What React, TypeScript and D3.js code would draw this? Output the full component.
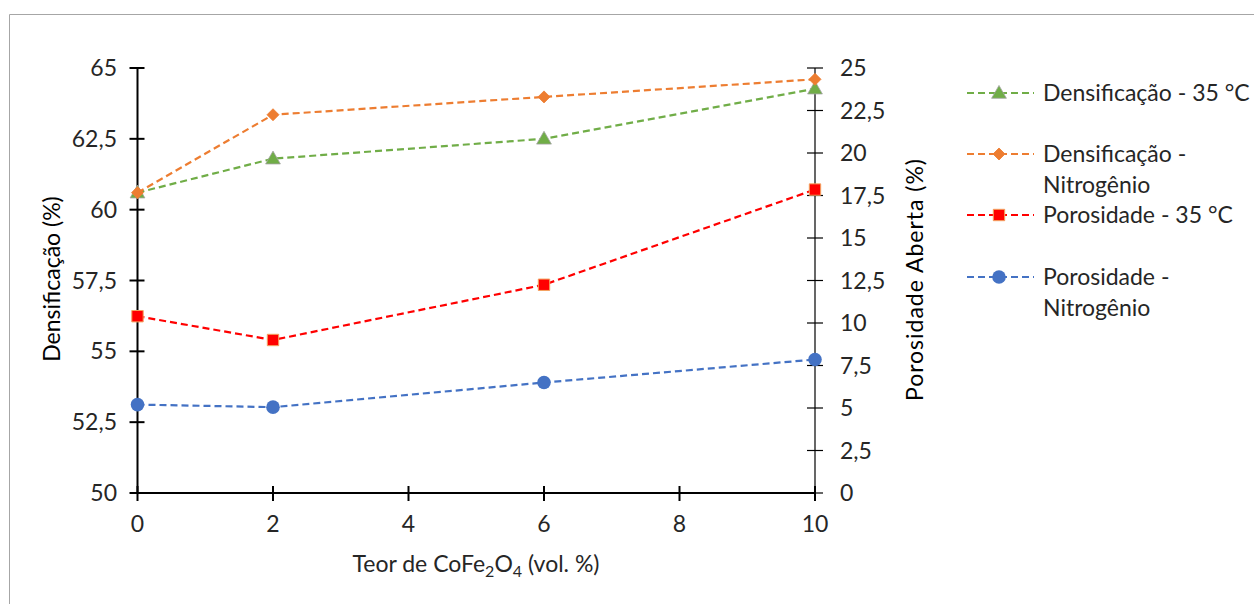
import React from "react";
import * as d3 from "d3";

const xValues = [0, 2, 6, 10];
const densif35 = [60.6, 61.8, 62.5, 64.27];
const densifN2 = [60.6, 63.35, 63.98, 64.6];
const poros35 = [10.4, 9.0, 12.25, 17.85];
const porosN2 = [5.2, 5.05, 6.5, 7.85];

const xTicks = [0, 2, 4, 6, 8, 10];
const leftTicks = [50, 52.5, 55, 57.5, 60, 62.5, 65];
const rightTicks = [0, 2.5, 5, 7.5, 10, 12.5, 15, 17.5, 20, 22.5, 25];

const legendLabels = [
  ["Densificação - 35 °C"],
  ["Densificação -", "Nitrogênio"],
  ["Porosidade - 35 °C"],
  ["Porosidade -", "Nitrogênio"],
];

const W = 1254;
const H = 604;
const X0 = 137.5;
const X1 = 815;
const YT = 68;
const YB = 493;
const FONT = "Lato, 'Open Sans', sans-serif";
const FS = 23;
const TXT = "#262626";

const locale = d3.formatLocale({ decimal: ",", thousands: ".", grouping: [3], currency: ["", ""] });
const fmt = (v: number) => locale.format("~g")(v);

const xScale = d3.scaleLinear().domain([0, 10]).range([X0, X1]);
const yLeft = d3.scaleLinear().domain([50, 65]).range([YB, YT]);
const yRight = d3.scaleLinear().domain([0, 25]).range([YB, YT]);

type Marker = "triangle" | "diamond" | "square" | "circle";

function MarkerShape({ kind, x, y, color }: { kind: Marker; x: number; y: number; color: string }) {
  if (kind === "triangle") {
    const p = d3.symbol().type(d3.symbolTriangle).size(95)() as string;
    return <path d={p} transform={`translate(${x},${y + 1})`} fill={color} stroke="#a5a5a5" strokeWidth={0.8} />;
  }
  if (kind === "diamond") {
    const p = d3.symbol().type(d3.symbolSquare).size(72)() as string;
    return <path d={p} transform={`translate(${x},${y}) rotate(45)`} fill={color} stroke={color} strokeWidth={0.8} />;
  }
  if (kind === "square") {
    const p = d3.symbol().type(d3.symbolSquare).size(130)() as string;
    return <path d={p} transform={`translate(${x},${y})`} fill={color} stroke="#f4a460" strokeWidth={1} />;
  }
  return <circle cx={x} cy={y} r={6.8} fill={color} />;
}

const series = [
  { values: densif35, scale: yLeft, color: "#70ad47", marker: "triangle" as Marker },
  { values: densifN2, scale: yLeft, color: "#ed7d31", marker: "diamond" as Marker },
  { values: poros35, scale: yRight, color: "#ff0000", marker: "square" as Marker },
  { values: porosN2, scale: yRight, color: "#4472c4", marker: "circle" as Marker },
];

const legendRows = [93, 154, 215, 277];

export default function App() {
  return (
    <svg width={W} height={H} style={{ position: "absolute", left: 0, top: 0 }} fontFamily={FONT}>
      <rect x={0} y={0} width={W} height={H} fill="#fff" />
      <path d={`M9.5,${H} V14.5 H${W}`} fill="none" stroke="#a6a6a6" strokeWidth={1} />

      {/* axes */}
      <line x1={X0} x2={X0} y1={YT} y2={YB} stroke="#000" strokeWidth={2} />
      <line x1={X1} x2={X1} y1={YT} y2={YB + 7} stroke="#000" strokeWidth={1.2} />
      <line x1={X0} x2={X1} y1={YB} y2={YB} stroke="#000" strokeWidth={2} />
      {leftTicks.map((t) => (
        <g key={"l" + t}>
          <line x1={X0 - 8} x2={X0 + 7} y1={yLeft(t)} y2={yLeft(t)} stroke="#000" strokeWidth={2} />
          <text x={117} y={yLeft(t)} dy="0.35em" textAnchor="end" fontSize={FS} fill={TXT}>
            {fmt(t)}
          </text>
        </g>
      ))}
      {rightTicks.map((t) => (
        <g key={"r" + t}>
          <line x1={X1 - 8} x2={X1 + 8} y1={yRight(t)} y2={yRight(t)} stroke="#000" strokeWidth={1.2} />
          <text x={840} y={yRight(t)} dy="0.35em" textAnchor="start" fontSize={FS} fill={TXT}>
            {fmt(t)}
          </text>
        </g>
      ))}
      {xTicks.map((t) => (
        <g key={"x" + t}>
          <line x1={xScale(t)} x2={xScale(t)} y1={YB - 7} y2={YB + 8} stroke="#000" strokeWidth={2} />
          <text x={xScale(t)} y={524} dy="0.35em" textAnchor="middle" fontSize={FS} fill={TXT}>
            {fmt(t)}
          </text>
        </g>
      ))}

      {/* axis titles */}
      <text transform="translate(52,279) rotate(-90)" textAnchor="middle" dy="0.35em" fontSize={FS} fill="#000">
        Densificação (%)
      </text>
      <text transform="translate(915,280) rotate(-90)" textAnchor="middle" dy="0.35em" fontSize={FS} fill="#000"
        textLength={242} lengthAdjust="spacing">
        Porosidade Aberta (%)
      </text>
      <text x={476} y={564} textAnchor="middle" dy="0.35em" fontSize={FS} fill={TXT}>
        Teor de CoFe
        <tspan fontSize={16} dy="5">2</tspan>
        <tspan dy="-5">O</tspan>
        <tspan fontSize={16} dy="5">4</tspan>
        <tspan dy="-5"> (vol. %)</tspan>
      </text>

      {/* series lines */}
      {series.map((s, i) => {
        const line = d3
          .line<number>()
          .x((_, j) => xScale(xValues[j]))
          .y((v) => s.scale(v));
        return (
          <path key={"s" + i} d={line(s.values) as string} fill="none" stroke={s.color} strokeWidth={2.2} strokeDasharray="7,4" />
        );
      })}
      {series.map((s, i) =>
        s.values.map((v, j) => (
          <MarkerShape key={`m${i}-${j}`} kind={s.marker} x={xScale(xValues[j])} y={s.scale(v)} color={s.color} />
        ))
      )}

      {/* legend */}
      {series.map((s, i) => (
        <g key={"lg" + i}>
          <line x1={967} x2={1034} y1={legendRows[i]} y2={legendRows[i]} stroke={s.color} strokeWidth={2.2} strokeDasharray="7,4" />
          <MarkerShape kind={s.marker} x={999} y={legendRows[i]} color={s.color} />
          {legendLabels[i].map((t, k) => (
            <text key={k} x={1043} y={legendRows[i] + k * 31} dy="0.35em" fontSize={FS} fill={TXT}>
              {t}
            </text>
          ))}
        </g>
      ))}
    </svg>
  );
}
